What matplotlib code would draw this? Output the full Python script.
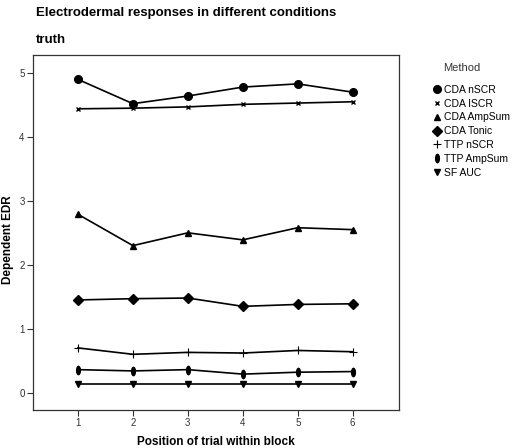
import matplotlib
matplotlib.use("Agg")
import matplotlib.pyplot as plt
from matplotlib.path import Path
from matplotlib.transforms import Affine2D

plt.rcParams["font.family"] = ["Liberation Sans", "DejaVu Sans"]

positions = [1, 2, 3, 4, 5, 6]
methods = ["CDA nSCR", "CDA ISCR", "CDA AmpSum", "CDA Tonic",
           "TTP nSCR", "TTP AmpSum", "SF AUC"]

cda_nscr = [4.90, 4.52, 4.64, 4.78, 4.83, 4.70]
cda_iscr = [4.44, 4.45, 4.47, 4.51, 4.53, 4.55]
cda_ampsum = [2.79, 2.30, 2.50, 2.39, 2.58, 2.55]
cda_tonic = [1.45, 1.47, 1.48, 1.35, 1.38, 1.39]
ttp_nscr = [0.70, 0.60, 0.63, 0.62, 0.66, 0.64]
ttp_ampsum = [0.36, 0.34, 0.36, 0.29, 0.32, 0.33]
sf_auc = [0.13, 0.13, 0.13, 0.13, 0.13, 0.13]

series = [cda_nscr, cda_iscr, cda_ampsum, cda_tonic, ttp_nscr, ttp_ampsum, sf_auc]

# thin vertical ellipse for TTP AmpSum
ellipse = Path.unit_circle().transformed(Affine2D().scale(0.45, 1.0))

styles = [
    dict(marker="o", ms=5.5),
    dict(marker="x", ms=3.5, mew=1.0),
    dict(marker="^", ms=4.5),
    dict(marker="D", ms=5),
    dict(marker="+", ms=5.5, mew=0.8),
    dict(marker=ellipse, ms=6),
    dict(marker="v", ms=4.5),
]

fig = plt.figure(figsize=(5.14, 4.48), dpi=100)
ax = fig.add_axes([0.064, 0.085, 0.712, 0.792])

for vals, st in zip(series, styles):
    ax.plot(positions, vals, color="black", lw=1.2, mfc="black", mec="black", **st)

ax.set_xlim(0.18, 6.84)
ax.set_ylim(-0.27, 5.28)
ax.set_xticks(positions)
ax.set_yticks([0, 1, 2, 3, 4, 5])
ax.tick_params(labelsize=7, length=4, width=0.8, pad=2,
               color="#333333", labelcolor="#333333")
for s in ax.spines.values():
    s.set_linewidth(0.9)
    s.set_color("#333333")

fig.text(0.016, 0.465, "Dependent EDR", fontsize=8.5, fontweight="bold",
         rotation=90, ha="center", va="center")
fig.text(0.42, 0.013, "Position of trial within block", fontsize=8.5,
         fontweight="bold", ha="center", va="center")

fig.text(0.07, 0.97, "Electrodermal responses in different conditions",
         fontsize=9.5, fontweight="bold", va="center")
fig.text(0.07, 0.91, "truth", fontsize=9.5, fontweight="bold", va="center")

# legend title drawn separately so it can sit apart from the entries
fig.text(443 / 514, 1 - 68 / 448, "Method", fontsize=8, color="#333333", va="center")

handles = [plt.Line2D([], [], ls="none", color="black", **st) for st in styles]
fig.legend(handles, methods, loc="upper left",
           bbox_to_anchor=(0.846, 0.811), frameon=False, fontsize=7.5,
           handlelength=0.5, handletextpad=0.4, borderpad=0,
           labelspacing=0.37, borderaxespad=0)

fig.savefig("out.png", dpi=100)
